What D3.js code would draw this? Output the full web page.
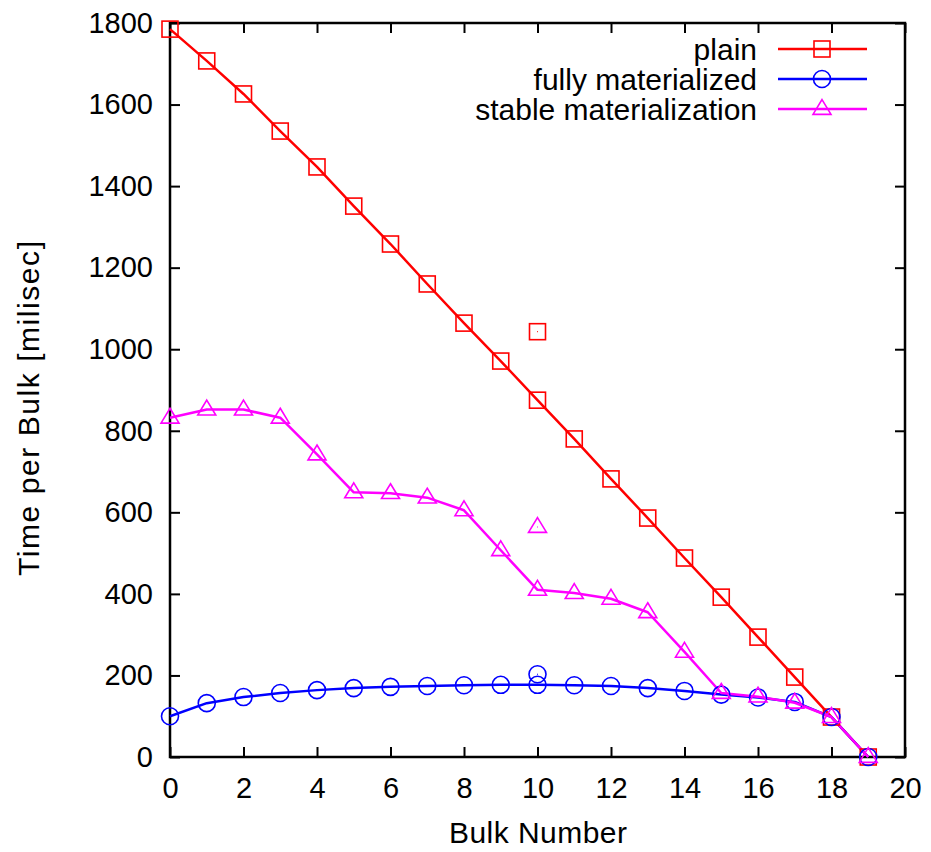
<!DOCTYPE html>
<html lang="en">
<head>
  <meta charset="UTF-8">
  <title>Time per Bulk</title>
  <script src="https://d3js.org/d3.v7.min.js"></script>
  <style>
    body { margin: 0; background: #fff; }
    text { font-family: "Liberation Sans", Arial, sans-serif; fill: #000; }
  </style>
</head>
<body>
  <script>
    // Data
    const bulks = d3.range(0, 20);
    const plain = [1785, 1707, 1626, 1535, 1447, 1351, 1258, 1160, 1064, 971,
                   875, 780, 682, 586, 488, 392, 294, 196, 98, 0];
    const fully = [100, 132, 147, 157, 164, 169, 172, 174, 176, 177,
                   177, 176, 174, 169, 162, 153, 146, 135, 98, 0];
    const stable = [832, 852, 852, 832, 742, 649, 647, 636, 605, 507,
                    410, 402, 388, 355, 258, 157, 148, 133, 98, 0];
    // lone extra points at bulk 10
    const extraX = 10;
    const extra = { plain: 1043, fully: 203, stable: 564 };

    const seriesNames = ["plain", "fully materialized", "stable materialization"];
    const colors = ["#ff0000", "#0000ff", "#ff00ff"];
    const xTicks = d3.range(0, 21, 2);
    const yTicks = d3.range(0, 1801, 200);

    const width = 931, height = 852;
    const margin = { left: 170, right: 26, top: 23, bottom: 95 };
    const fs = "29px";

    const svg = d3.select("body").append("svg")
      .attr("width", width)
      .attr("height", height);

    const x = d3.scaleLinear().domain([0, 20]).range([margin.left, width - margin.right]);
    const y = d3.scaleLinear().domain([0, 1800]).range([height - margin.bottom, margin.top]);

    const plotW = x(20) - x(0), plotH = y(0) - y(1800);

    // Axes with inward ticks on all sides
    const axisStyle = g => {
      g.attr("font-size", null).attr("font-family", null);
      g.select(".domain").remove();
      g.selectAll("line").attr("stroke", "#000").attr("stroke-width", 2);
      g.selectAll("text").style("font-size", fs);
    };
    svg.append("g").attr("transform", `translate(0,${y(0)})`)
      .call(d3.axisBottom(x).tickValues(xTicks).tickSize(-10).tickPadding(20).tickFormat(d3.format("d")))
      .call(axisStyle);
    svg.append("g").attr("transform", `translate(0,${y(1800)})`)
      .call(d3.axisTop(x).tickValues(xTicks).tickSize(-10).tickFormat(""))
      .call(axisStyle);
    svg.append("g").attr("transform", `translate(${x(0)},0)`)
      .call(d3.axisLeft(y).tickValues(yTicks).tickSize(-10).tickPadding(17).tickFormat(d3.format("d")))
      .call(axisStyle);
    svg.append("g").attr("transform", `translate(${x(20)},0)`)
      .call(d3.axisRight(y).tickValues(yTicks).tickSize(-10).tickFormat(""))
      .call(axisStyle);

    svg.append("rect")
      .attr("x", x(0)).attr("y", y(1800))
      .attr("width", plotW).attr("height", plotH)
      .attr("fill", "none").attr("stroke", "#000").attr("stroke-width", 2.5);

    // Axis labels
    svg.append("text")
      .attr("x", 449).attr("y", 843)
      .attr("textLength", 178).attr("lengthAdjust", "spacing")
      .style("font-size", "30px")
      .text("Bulk Number");
    svg.append("text")
      .attr("transform", `translate(39,576) rotate(-90)`)
      .attr("textLength", 335).attr("lengthAdjust", "spacing")
      .style("font-size", "30px")
      .text("Time per Bulk [milisec]");

    // Marker drawing
    function marker(g, type, cx, cy, color) {
      if (type === 0) {
        g.append("rect").attr("x", cx - 8).attr("y", cy - 8).attr("width", 16).attr("height", 16)
          .attr("fill", "none").attr("stroke", color).attr("stroke-width", 1.6);
      } else if (type === 1) {
        g.append("circle").attr("cx", cx).attr("cy", cy).attr("r", 8.5)
          .attr("fill", "none").attr("stroke", color).attr("stroke-width", 1.6);
      } else {
        const s = 9;
        g.append("path")
          .attr("d", `M${cx},${cy - s * 1.05}L${cx + s},${cy + s * 0.6}L${cx - s},${cy + s * 0.6}Z`)
          .attr("fill", "none").attr("stroke", color).attr("stroke-width", 1.6);
      }
    }

    const line = d3.line()
      .x((d, i) => x(bulks[i]))
      .y(d => y(d));

    const allSeries = [plain, fully, stable];
    const extras = [extra.plain, extra.fully, extra.stable];

    const plot = svg.append("g");
    allSeries.forEach((vals, k) => {
      plot.append("path")
        .datum(vals)
        .attr("d", line)
        .attr("fill", "none")
        .attr("stroke", colors[k])
        .attr("stroke-width", 2.5)
        .attr("stroke-linejoin", "round");
    });
    allSeries.forEach((vals, k) => {
      const g = plot.append("g");
      vals.forEach((v, i) => marker(g, k, x(bulks[i]), y(v), colors[k]));
      // lone point with a centre dot
      marker(g, k, x(extraX), y(extras[k]), colors[k]);
      g.append("rect").attr("x", x(extraX) - 0.5).attr("y", y(extras[k]) - 0.5)
        .attr("width", 1).attr("height", 1).attr("fill", colors[k]);
    });

    // Legend
    const legend = svg.append("g");
    const legendLen = [null, 240, 287];
    seriesNames.forEach((name, k) => {
      const ly = 49 + k * 30;
      const t = legend.append("text")
        .attr("x", 757).attr("y", ly)
        .attr("dy", "0.35em")
        .attr("text-anchor", "end")
        .style("font-size", "30px")
        .text(name);
      legend.append("line")
        .attr("x1", 778).attr("x2", 867)
        .attr("y1", ly).attr("y2", ly)
        .attr("stroke", colors[k]).attr("stroke-width", 2.5);
      marker(legend, k, 822, ly, colors[k]);
    });
  </script>
</body>
</html>
